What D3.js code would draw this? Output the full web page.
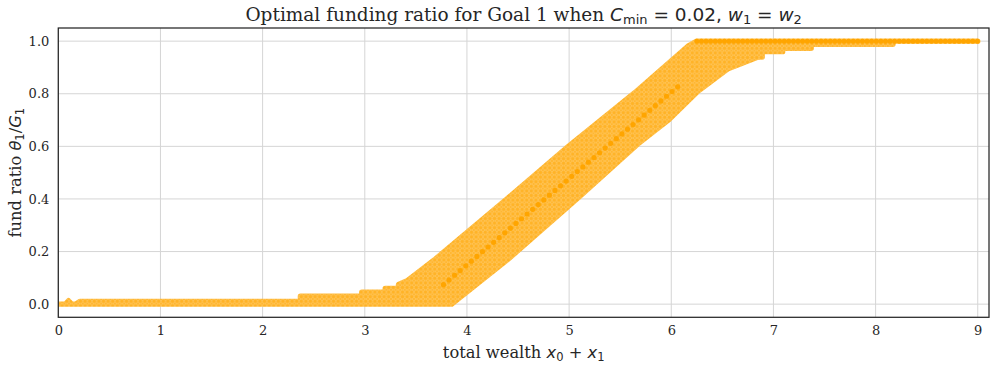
<!DOCTYPE html>
<html>
<head>
<meta charset="utf-8">
<script src="https://cdn.jsdelivr.net/npm/d3@7"></script>
<style>
body { margin: 0; background: white; }
</style>
</head>
<body>
<div id="chart"></div>
<script>

// upper and lower edge of the cloud of optimal ratios (marker centres)
let upperX = [0, 0.07, 0.1, 0.13, 0.17, 0.21, 2.37, 2.37, 2.97, 2.97, 3.2, 3.2, 3.33, 3.33, 3.42, 3.68, 4.34, 4.99, 5.64, 6.16, 6.25, 9.0]
let upperY = [0, 0, 0.013, 0.0, 0.0, 0.01, 0.01, 0.03, 0.03, 0.045, 0.045, 0.06, 0.06, 0.075, 0.09, 0.168, 0.383, 0.599, 0.803, 0.98, 1.0, 1.0]

let lowerX = [0, 3.85, 4.40, 5.10, 5.67, 5.98, 6.26, 6.55, 6.85, 6.89, 6.89, 7.09, 7.09, 7.37, 7.37, 8.17, 8.17, 9.0]
let lowerY = [0, 0, 0.170, 0.408, 0.608, 0.703, 0.809, 0.894, 0.94, 0.94, 0.96, 0.96, 0.973, 0.973, 0.988, 0.988, 1.0, 1.0]

// where many points coincide (darker markers)
let centreX = [3.77, 6.11]
let centreY = [0.074, 0.842]
let topX = [6.25, 9.0]
let topY = [1.0, 1.0]

let xTicks = [0, 1, 2, 3, 4, 5, 6, 7, 8, 9]
let yTicks = [0, 0.2, 0.4, 0.6, 0.8, 1.0]

let width = 996
let height = 368
let plotLeft = 58.3, plotRight = 989, plotTop = 28, plotBottom = 317.3

let xScale = d3.scaleLinear()
	.domain([0, 9.11])
	.range([plotLeft, plotRight])

let yScale = d3.scaleLinear()
	.domain([-0.05, 1.05])
	.range([plotBottom, plotTop])

const svg = d3.select('#chart')
	.append('svg')
	.attr('width', width)
	.attr('height', height)

let defs = svg.append('defs')

defs.append('clipPath')
	.attr('id', 'plotClip')
	.append('rect')
	.attr('x', plotLeft)
	.attr('y', plotTop)
	.attr('width', plotRight - plotLeft)
	.attr('height', plotBottom - plotTop)

let pat = defs.append('pattern')
	.attr('id', 'dots')
	.attr('patternUnits', 'userSpaceOnUse')
	.attr('width', 4.6)
	.attr('height', 4.6)

pat.append('rect')
	.attr('width', 4.6)
	.attr('height', 4.6)
	.attr('fill', '#FFB327')

pat.append('circle')
	.attr('cx', 2.3)
	.attr('cy', 2.3)
	.attr('r', 2.1)
	.attr('fill', 'none')
	.attr('stroke', '#FFC862')
	.attr('stroke-width', 0.7)

// grid
svg.selectAll('.xGrid')
	.data(xTicks)
	.enter()
	.append('line')
	.attr('x1', d => xScale(d))
	.attr('x2', d => xScale(d))
	.attr('y1', plotTop)
	.attr('y2', plotBottom)
	.attr('stroke', '#d5d5d5')
	.attr('stroke-width', 1)

svg.selectAll('.yGrid')
	.data(yTicks)
	.enter()
	.append('line')
	.attr('x1', plotLeft)
	.attr('x2', plotRight)
	.attr('y1', d => yScale(d))
	.attr('y2', d => yScale(d))
	.attr('stroke', '#d5d5d5')
	.attr('stroke-width', 1)

// band outline, upper edge forward then lower edge back
let band = upperX.map((d, i) => ({'x': d, 'y': upperY[i]}))
lowerX.slice().reverse().forEach(function(d, i){
	band.push({'x': d, 'y': lowerY[lowerY.length - 1 - i]})
})

let line = d3.line()
	.x(d => xScale(d.x))
	.y(d => yScale(d.y))

let plot = svg.append('g')
	.attr('clip-path', 'url(#plotClip)')

plot.append('path')
	.datum(band)
	.attr('d', d => line(d) + 'Z')
	.attr('fill', 'url(#dots)')
	.attr('stroke', 'url(#dots)')
	.attr('stroke-width', 5.4)
	.attr('stroke-linejoin', 'round')

plot.append('path')
	.datum(centreX.map((d, i) => ({'x': d, 'y': centreY[i]})))
	.attr('d', line)
	.attr('fill', 'none')
	.attr('stroke', '#FFA500')
	.attr('stroke-width', 5.2)
	.attr('stroke-linecap', 'round')
	.attr('stroke-dasharray', '0 7.3')

plot.append('path')
	.datum(topX.map((d, i) => ({'x': d, 'y': topY[i]})))
	.attr('d', line)
	.attr('fill', 'none')
	.attr('stroke', '#FFA500')
	.attr('stroke-width', 5)
	.attr('stroke-linecap', 'round')
	.attr('stroke-dasharray', '0 4.6')

// frame
svg.append('rect')
	.attr('x', plotLeft)
	.attr('y', plotTop)
	.attr('width', plotRight - plotLeft)
	.attr('height', plotBottom - plotTop)
	.attr('fill', 'none')
	.attr('stroke', '#262626')
	.attr('stroke-width', 1.25)

let xAxis = g => g.attr('transform', `translate(0,${plotBottom})`)
	.call(d3.axisBottom(xScale).tickValues(xTicks).tickSize(0).tickPadding(8).tickFormat(d3.format('d')))
	.call(g => g.select('.domain').remove())

let yAxis = g => g.attr('transform', `translate(${plotLeft},0)`)
	.call(d3.axisLeft(yScale).tickValues(yTicks).tickSize(0).tickPadding(9).tickFormat(d3.format('.1f')))
	.call(g => g.select('.domain').remove())

let xG = svg.append('g').call(xAxis)
let yG = svg.append('g').call(yAxis)

xG.selectAll('text').attr('fill', '#262626').attr('font-size', 13).attr('font-family', 'DejaVu Serif')
yG.selectAll('text').attr('fill', '#262626').attr('font-size', 13).attr('font-family', 'DejaVu Serif')

// title and labels
let title = svg.append('text')
	.attr('x', (plotLeft + plotRight) / 2)
	.attr('y', 21)
	.attr('text-anchor', 'middle')
	.attr('font-family', 'DejaVu Serif')
	.attr('font-size', 18.5)
	.attr('fill', '#262626')

title.append('tspan').text('Optimal funding ratio for Goal 1 when ')
title.append('tspan').attr('font-family', 'DejaVu Sans').attr('font-style', 'italic').text('C')
title.append('tspan').attr('font-family', 'DejaVu Sans').attr('font-size', 13).attr('dy', 3).text('min')
title.append('tspan').attr('font-family', 'DejaVu Sans').attr('dy', -3).text(' = 0.02, ')
title.append('tspan').attr('font-family', 'DejaVu Sans').attr('font-style', 'italic').text('w')
title.append('tspan').attr('font-family', 'DejaVu Sans').attr('font-size', 13).attr('dy', 3).text('1')
title.append('tspan').attr('font-family', 'DejaVu Sans').attr('dy', -3).text(' = ')
title.append('tspan').attr('font-family', 'DejaVu Sans').attr('font-style', 'italic').text('w')
title.append('tspan').attr('font-family', 'DejaVu Sans').attr('font-size', 13).attr('dy', 3).text('2')

let xLabel = svg.append('text')
	.attr('x', (plotLeft + plotRight) / 2)
	.attr('y', 358)
	.attr('text-anchor', 'middle')
	.attr('font-family', 'DejaVu Serif')
	.attr('font-size', 16.3)
	.attr('fill', '#262626')

xLabel.append('tspan').text('total wealth ')
xLabel.append('tspan').attr('font-family', 'DejaVu Sans').attr('font-style', 'italic').text('x')
xLabel.append('tspan').attr('font-family', 'DejaVu Sans').attr('font-size', 11.5).attr('dy', 3).text('0')
xLabel.append('tspan').attr('font-family', 'DejaVu Sans').attr('dy', -3).text(' + ')
xLabel.append('tspan').attr('font-family', 'DejaVu Sans').attr('font-style', 'italic').text('x')
xLabel.append('tspan').attr('font-family', 'DejaVu Sans').attr('font-size', 11.5).attr('dy', 3).text('1')

let yLabel = svg.append('text')
	.attr('transform', `translate(21,${(plotTop + plotBottom) / 2}) rotate(-90)`)
	.attr('text-anchor', 'middle')
	.attr('font-family', 'DejaVu Serif')
	.attr('font-size', 16.3)
	.attr('fill', '#262626')

yLabel.append('tspan').text('fund ratio ')
yLabel.append('tspan').attr('font-family', 'DejaVu Sans').attr('font-style', 'italic').text('θ')
yLabel.append('tspan').attr('font-family', 'DejaVu Sans').attr('font-size', 11.5).attr('dy', 3).text('1')
yLabel.append('tspan').attr('font-family', 'DejaVu Sans').attr('dy', -3).text('/')
yLabel.append('tspan').attr('font-family', 'DejaVu Sans').attr('font-style', 'italic').text('G')
yLabel.append('tspan').attr('font-family', 'DejaVu Sans').attr('font-size', 11.5).attr('dy', 3).text('1')

</script>
</body>
</html>
